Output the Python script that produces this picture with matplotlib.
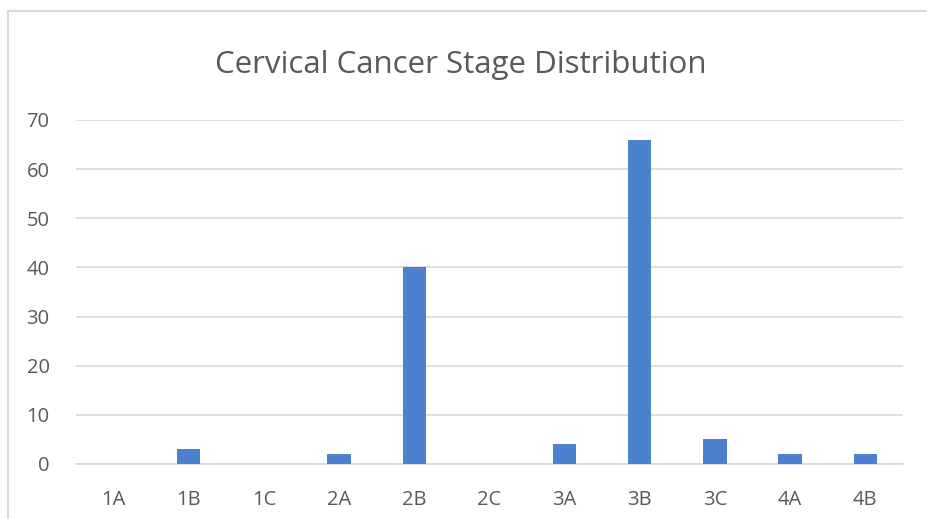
import matplotlib
matplotlib.use("Agg")
import matplotlib.pyplot as plt
from matplotlib.lines import Line2D

# chart data
stages = ["1A", "1B", "1C", "2A", "2B", "2C", "3A", "3B", "3C", "4A", "4B"]
counts = [0, 3, 0, 2, 40, 0, 4, 66, 5, 2, 2]
y_ticks = [0, 10, 20, 30, 40, 50, 60, 70]

plt.rcParams['font.family'] = ['Open Sans', 'DejaVu Sans']

fig = plt.figure(figsize=(9.28, 5.19), dpi=100)
ax = fig.add_axes([0.0819, 0.106, 0.891, 0.663])

x = range(len(stages))
ax.bar(x, counts, width=0.31, color="#4e80d0", zorder=3)

ax.set_xlim(-0.5, len(stages) - 0.5)
ax.set_ylim(0, 70)
ax.set_yticks(y_ticks)
ax.set_xticks(list(x))
ax.set_xticklabels(stages)
ax.grid(axis="y", color="#d9d9d9", linewidth=1.2, zorder=0)
ax.tick_params(length=0, labelsize=14.5, labelcolor="#595959")
ax.tick_params(axis="x", pad=19)
ax.tick_params(axis="y", pad=19)
for s in ["top", "right", "left"]:
    ax.spines[s].set_visible(False)
ax.spines["bottom"].set_color("#d9d9d9")
ax.spines["bottom"].set_linewidth(1.2)

fig.text(0.497, 0.859, "Cervical Cancer Stage Distribution", ha="center", va="baseline",
         fontsize=22.5, color="#595959")

# chart frame (cropped at right and bottom)
fig.add_artist(Line2D([0.009, 0.009], [0, 0.979], color="#d9d9d9", linewidth=1.5, transform=fig.transFigure))
fig.add_artist(Line2D([0.009, 1], [0.979, 0.979], color="#d9d9d9", linewidth=1.5, transform=fig.transFigure))

fig.savefig("out.png", dpi=100)
